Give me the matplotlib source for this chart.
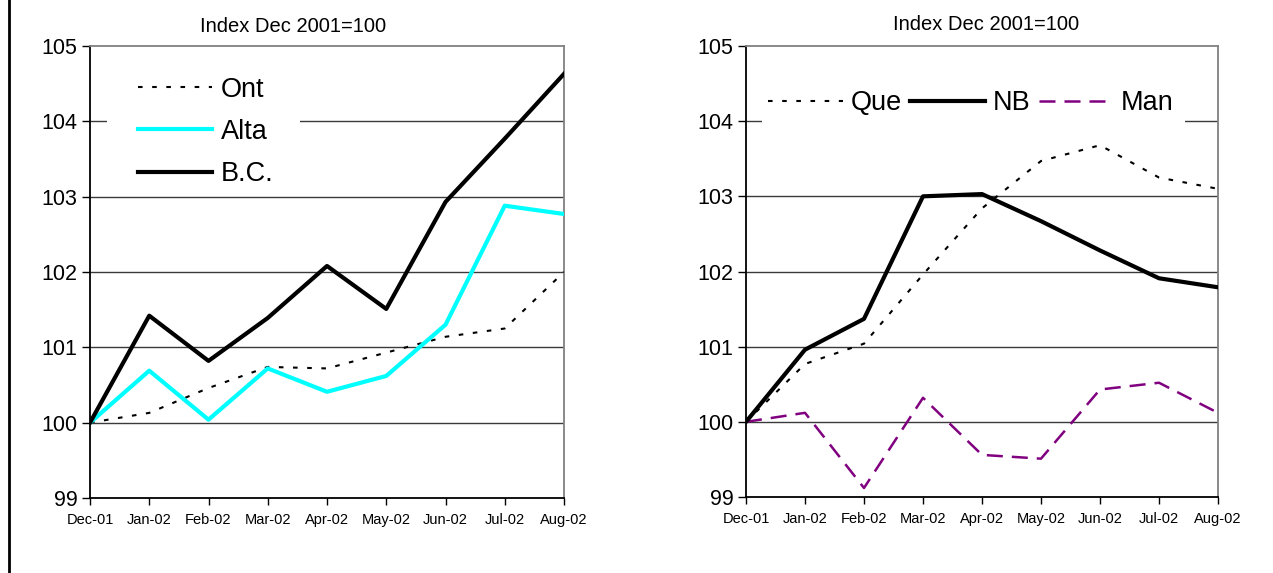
import matplotlib
matplotlib.use("Agg")
import matplotlib.pyplot as plt
from matplotlib.lines import Line2D
from matplotlib.patches import Rectangle

plt.rcParams["font.family"] = ["Liberation Sans", "DejaVu Sans"]

months = ["Dec-01", "Jan-02", "Feb-02", "Mar-02", "Apr-02", "May-02", "Jun-02", "Jul-02", "Aug-02"]

ont = [100.0, 100.13, 100.46, 100.74, 100.72, 100.93, 101.14, 101.25, 102.0]
alta = [100.0, 100.69, 100.04, 100.72, 100.41, 100.62, 101.30, 102.88, 102.77]
bc = [100.0, 101.42, 100.82, 101.39, 102.08, 101.51, 102.93, 103.77, 104.63]

que = [100.0, 100.77, 101.04, 101.96, 102.84, 103.47, 103.68, 103.25, 103.10]
nb = [100.0, 100.96, 101.37, 103.0, 103.03, 102.67, 102.28, 101.91, 101.79]
man = [100.0, 100.12, 99.12, 100.32, 99.56, 99.51, 100.43, 100.52, 100.12]

title = "Index Dec 2001=100"
y_ticks = [99, 100, 101, 102, 103, 104, 105]

W, H = 1273, 573
fig = plt.figure(figsize=(W / 100, H / 100), dpi=100)


def style_axes(ax):
    x = list(range(len(months)))
    ax.set_xlim(0, len(months) - 1)
    ax.set_ylim(99, 105)
    ax.set_xticks(x)
    ax.set_xticklabels(months, fontsize=10.5)
    ax.set_yticks(y_ticks)
    ax.set_yticklabels([str(v) for v in y_ticks], fontsize=15.5)
    ax.tick_params(axis="y", length=6, width=1, pad=3)
    ax.tick_params(axis="x", length=5, width=1, pad=6)
    for v in y_ticks[1:-1]:
        ax.axhline(v, color="#3a3a3a", lw=1.0, zorder=0)
    ax.spines["left"].set_color("black")
    ax.spines["bottom"].set_color("black")
    ax.spines["top"].set_color("#808080")
    ax.spines["right"].set_color("#808080")
    for s in ax.spines.values():
        s.set_linewidth(1.3)
    return x


def legend_blank(ax, x0, x1, y0, y1):
    # white patch behind the legend, hides the gridline there
    ax.add_patch(Rectangle((x0, y0), x1 - x0, y1 - y0, transform=ax.transAxes,
                           facecolor="white", edgecolor="none", zorder=1))


# left panel
ax1 = fig.add_axes([90 / W, 1 - 498 / H, 474 / W, 452 / H])
x = style_axes(ax1)
ax1.plot(x, ont, color="black", lw=1.5, dashes=(2.2, 4.6), label="Ont", zorder=3)
ax1.plot(x, alta, color="#00ffff", lw=3.0, label="Alta", zorder=4)
ax1.plot(x, bc, color="black", lw=3.0, label="B.C.", zorder=5)
legend_blank(ax1, 0.036, 0.443, 0.80, 0.86)
ax1.legend(loc="upper left", bbox_to_anchor=(0.084, 0.95), fontsize=19.5,
           handlelength=2.75, handletextpad=0.3, labelspacing=0.6,
           borderpad=0.3, borderaxespad=0, frameon=False)
fig.text(293 / W, 1 - 27 / H, title, ha="center", va="center", fontsize=14.5)

# right panel
ax2 = fig.add_axes([746 / W, 1 - 497 / H, 472 / W, 451 / H])
x = style_axes(ax2)
ax2.plot(x, que, color="black", lw=1.5, dashes=(2.2, 4.6), label="Que", zorder=3)
ax2.plot(x, nb, color="black", lw=3.0, label="NB", zorder=5)
ax2.plot(x, man, color="#800080", lw=1.8, dashes=(6.4, 3.6), label="Man", zorder=4)
legend_blank(ax2, 0.034, 0.930, 0.80, 0.86)
ax2.legend(loc="upper left", bbox_to_anchor=(0.03, 0.92), ncol=3, fontsize=19.5,
           handlelength=2.75, handletextpad=0.3, columnspacing=0.3,
           borderpad=0.3, borderaxespad=0, frameon=False)
fig.text(986 / W, 1 - 24 / H, title, ha="center", va="center", fontsize=14.5)

# left frame edge
fig.add_artist(Line2D([9 / W, 9 / W], [0, 1], transform=fig.transFigure,
                      color="black", lw=2.0))

fig.savefig("out.png", dpi=100, facecolor="white")
